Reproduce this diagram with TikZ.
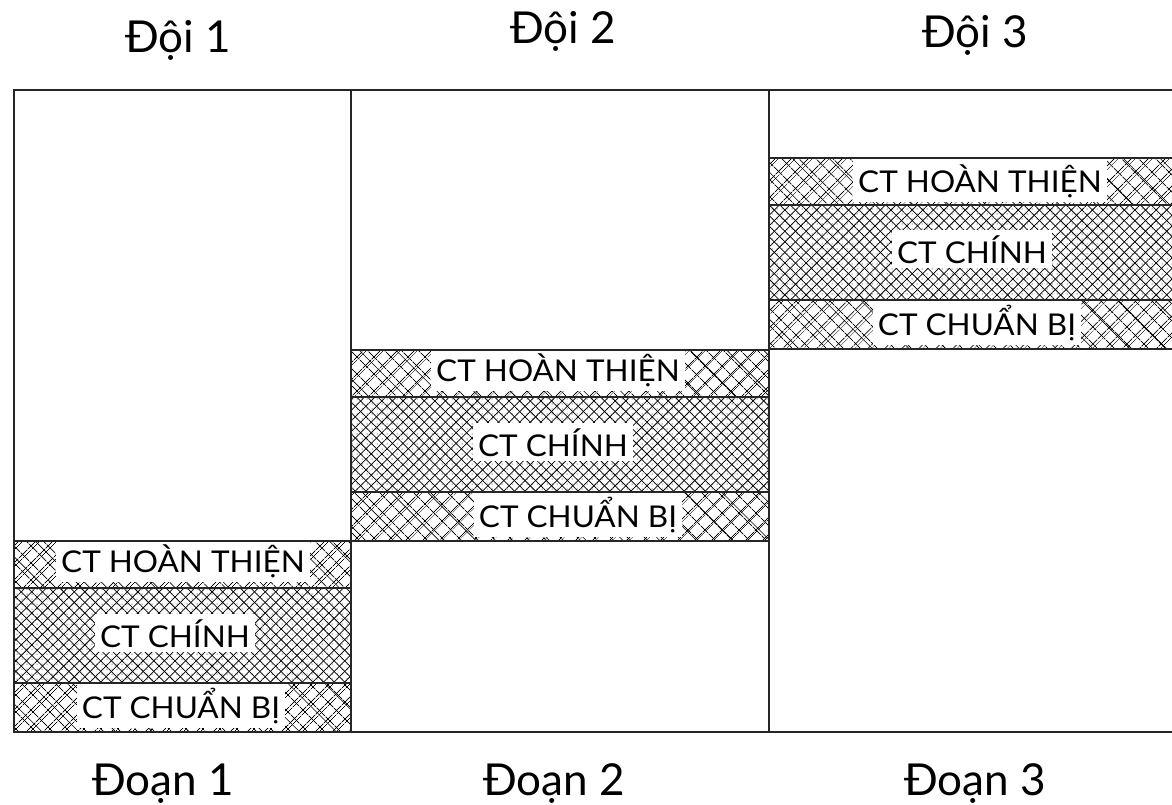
\documentclass[tikz,border=0pt]{standalone}
\usepackage{fontspec}
\setmainfont{Lato}
\newfontfamily\bandfont[FakeStretch=1.05]{Lato}
\usetikzlibrary{patterns.meta}
\newcommand\sparseband[4]{%
  \path[pattern={Lines[angle=45,distance=13pt,line width=1pt]}] (#1,#2) rectangle (#3,#4);
  \path[pattern={Lines[angle=-45,distance=13pt,line width=1pt]}] (#1,#2) rectangle (#3,#4);
  \path[pattern={Lines[angle=45,distance=13pt,xshift=4pt,line width=0.6pt]}] (#1,#2) rectangle (#3,#4);
  \path[pattern={Lines[angle=-45,distance=26pt,xshift=4pt,line width=0.6pt]}] (#1,#2) rectangle (#3,#4);
}
\newcommand\denseband[4]{%
  \path[pattern={Lines[angle=45,distance=7.5pt,line width=0.75pt]}] (#1,#2) rectangle (#3,#4);
  \path[pattern={Lines[angle=-45,distance=7.5pt,line width=0.75pt]}] (#1,#2) rectangle (#3,#4);
  \path[pattern={Dots[distance=5pt,radius=0.5pt,xshift=2pt]}] (#1,#2) rectangle (#3,#4);
}
\begin{document}
\begin{tikzpicture}[x=1pt,y=-1pt,
  frame/.style={line width=1.8pt,draw=black!85},
  sep/.style={line width=1.5pt,draw=black!85},
  lbl/.style={fill=white,inner xsep=5pt,inner ysep=5pt,anchor=base,
    font=\bandfont\fontsize{30}{30}\selectfont},
  head/.style={anchor=base,inner sep=0pt,font=\fontsize{44}{44}\selectfont}]
\useasboundingbox[fill=white] (0,0) rectangle (1172,804);

% column 1 (top 541)
\sparseband{14}{541}{351}{588}
\denseband{14}{588}{351}{683}
\sparseband{14}{683}{351}{732}
% column 2 (top 350)
\sparseband{351}{350}{769}{397}
\denseband{351}{397}{769}{492}
\sparseband{351}{492}{769}{541}
% column 3 (top 158)
\sparseband{769}{158}{1172}{205}
\denseband{769}{205}{1172}{300}
\sparseband{769}{300}{1172}{349}

% labels
\node[lbl] (h1) at (183,572) {CT HOÀN THIỆN};
\node[lbl] (c1) at (175,647) {CT CHÍNH};
\node[lbl] (p1) at (181,718) {CT CHUẨN BỊ};
\node[lbl] (h2) at (558,381) {CT HOÀN THIỆN};
\node[lbl] (c2) at (553,456) {CT CHÍNH};
\node[lbl] (p2) at (578,527) {CT CHUẨN BỊ};
\node[lbl] (h3) at (980,192) {CT HOÀN THIỆN};
\node[lbl] (c3) at (972,263) {CT CHÍNH};
\node[lbl] (p3) at (977,335) {CT CHUẨN BỊ};

% band separators
\foreach \y in {541,588,683} \draw[sep] (14,\y) -- (351,\y);
\foreach \y in {350,397,492,541} \draw[sep] (351,\y) -- (769,\y);
\foreach \y in {158,205,300,349} \draw[sep] (769,\y) -- (1172,\y);

% frame
\draw[frame] (1172,90) -- (14,90) -- (14,732) -- (1172,732);
\draw[frame] (351,90) -- (351,732);
\draw[frame] (769,90) -- (769,732);

% headers
\node[head] (d1) at (178,52) {Đội 1};
\node[head] (d2) at (563,43) {Đội 2};
\node[head] (d3) at (975,47) {Đội 3};
\node[head] (s1) at (163,795) {Đoạn 1};
\node[head] (s2) at (554,795) {Đoạn 2};
\node[head] (s3) at (975,795) {Đoạn 3};
\end{tikzpicture}
\end{document}
